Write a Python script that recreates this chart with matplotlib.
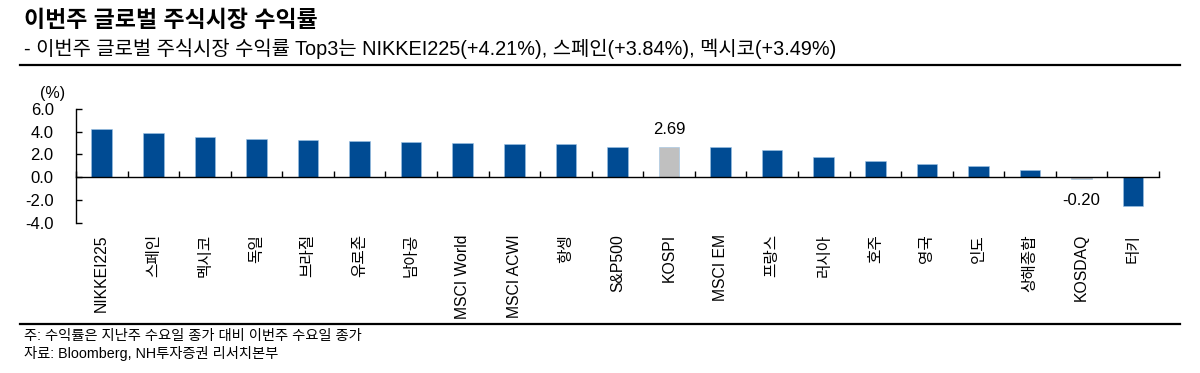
import numpy as np
import matplotlib.pyplot as plt
from matplotlib.lines import Line2D

plt.rcParams['font.family'] = ['Liberation Sans', 'Noto Sans CJK KR']
plt.rcParams['axes.unicode_minus'] = False

# 이번주 글로벌 주식시장 수익률 (%)
names = ['NIKKEI225', '스페인', '멕시코', '독일', '브라질', '유로존', '남아공',
         'MSCI World', 'MSCI ACWI', '항셍', 'S&P500', 'KOSPI', 'MSCI EM',
         '프랑스', '러시아', '호주', '영국', '인도', '상해종합', 'KOSDAQ', '터키']
returns = [4.21, 3.84, 3.49, 3.34, 3.23, 3.21, 3.11, 3.00, 2.89, 2.88, 2.65,
           2.69, 2.64, 2.39, 1.81, 1.44, 1.12, 0.98, 0.64, -0.20, -2.53]
korea = ['KOSPI', 'KOSDAQ']

blue = '#004b93'
gray = '#c0c0c0'

fig = plt.figure(figsize=(12, 3.73), dpi=100)
ax = fig.add_axes([0.0633, 0.403, 0.9025, 0.305])

x = np.arange(len(names))
colors = [gray if n in korea else blue for n in names]
ax.bar(x, returns, width=0.4, color=colors, edgecolor='#9cc3e6', linewidth=0.4, zorder=2)

for xi, n, v in zip(x, names, returns):
    if n in korea:
        off = 7 if v > 0 else -10
        ax.annotate(f'{v:.2f}', (xi, v), xytext=(0, off), textcoords='offset points',
                    ha='center', va='bottom' if v > 0 else 'top', fontsize=12)

ax.set_xlim(-0.5, len(names) - 0.5)
ax.set_ylim(-4, 6)
ax.set_yticks([-4, -2, 0, 2, 4, 6])
ax.set_yticklabels([f'{t:.1f}' for t in [-4, -2, 0, 2, 4, 6]], fontsize=12)
ax.tick_params(axis='y', direction='in', length=4, pad=16, width=1)

ax.spines['bottom'].set_position(('data', 0))
ax.spines['top'].set_visible(False)
ax.spines['right'].set_visible(False)
ax.spines['bottom'].set_linewidth(1)
ax.spines['left'].set_linewidth(1)

ax.set_xticks(x)
ax.set_xticklabels(names, rotation=90, fontsize=11.3)
ax.tick_params(axis='x', which='major', length=0, pad=41)
ax.set_xticks(np.arange(len(names) + 1) - 0.5, minor=True)
ax.tick_params(axis='x', which='minor', direction='in', length=4, width=1)

ax.text(-0.022, 1.07, '(%)', transform=ax.transAxes, fontsize=11.5, ha='center', va='bottom')

fig.text(0.02, 0.946, '이번주 글로벌 주식시장 수익률', fontsize=16.5, fontweight='bold', va='center')
fig.text(0.02, 0.869, '- 이번주 글로벌 주식시장 수익률 Top3는 NIKKEI225(+4.21%), 스페인(+3.84%), 멕시코(+3.49%)',
         fontsize=14.3, va='center')
fig.add_artist(Line2D([0.017, 0.983], [0.826, 0.826], transform=fig.transFigure, color='black', lw=1.6))
fig.add_artist(Line2D([0.017, 0.983], [0.131, 0.131], transform=fig.transFigure, color='black', lw=1.6))
fig.text(0.02, 0.099, '주: 수익률은 지난주 수요일 종가 대비 이번주 수요일 종가', fontsize=10.3, va='center')
fig.text(0.02, 0.051, '자료: Bloomberg, NH투자증권 리서치본부', fontsize=10.3, va='center')

fig.savefig('out.png', dpi=100)
